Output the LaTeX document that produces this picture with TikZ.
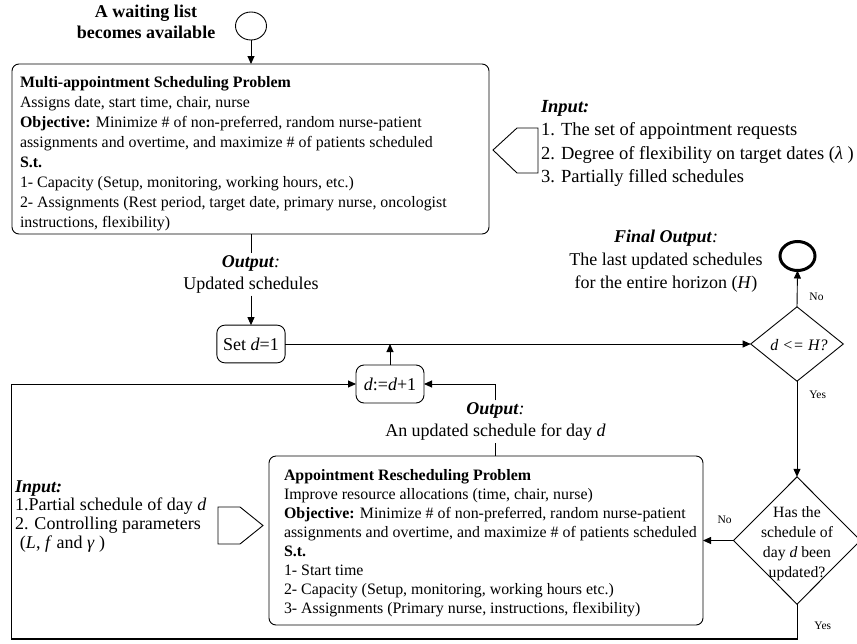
\documentclass[tikz,border=0pt]{standalone}
\usepackage{fontspec}
\setmainfont{Liberation Serif}
\usetikzlibrary{shapes.geometric,arrows.meta}
\begin{document}
\begin{tikzpicture}[x=1pt,y=-1pt, line width=0.9pt,
  arr/.style={-{Triangle[length=8pt,width=7pt]}},
  box/.style={draw, rounded corners=7pt, inner sep=0pt, outer sep=0pt},
  txt/.style={inner sep=0pt, outer sep=0pt, align=left, anchor=north west},
  lab/.style={inner sep=2pt, align=center},
  yn/.style={font=\fontsize{11.5}{13}\selectfont, inner sep=0pt},
  dia/.style={draw, diamond, inner sep=0pt, outer sep=0pt},
]
\useasboundingbox (0,0) rectangle (857,643);

% start
\node[draw, ellipse, minimum width=31pt, minimum height=28pt, inner sep=0pt, outer sep=0pt] (start) at (251,26) {};
\node[font=\fontsize{18}{21}\selectfont\bfseries, align=center, anchor=north, inner sep=0pt] (title) at (146,4.4) {A waiting list\\becomes available};

% top box
\node[box, minimum width=477pt, minimum height=170pt] (b1) at (250.5,149) {};
\node[txt, font=\fontsize{15.9}{20}\selectfont] (b1t) at (20,76) {\textbf{Multi-appointment Scheduling Problem}\\
Assigns date, start time, chair, nurse\\
\textbf{Objective:} Minimize \# of non-preferred, random nurse-patient\\
assignments and overtime, and maximize \# of patients scheduled\\
\textbf{S.t.}\\
1- Capacity (Setup, monitoring, working hours, etc.)\\
2- Assignments (Rest period, target date, primary nurse, oncologist\\
instructions, flexibility)};

% top input
\draw (493,150) -- (517,128) -- (538,128) -- (538,173) -- (517,173) -- cycle;
\node[txt, font=\fontsize{18.5}{23.5}\selectfont] (in1) at (541,100) {\textbf{\textit{Input:}}\\
1. The set of appointment requests\\
2. Degree of flexibility on target dates (\textit{λ} )\\
3. Partially filled schedules};

% final output
\node[font=\fontsize{18}{23}\selectfont, align=center, anchor=north, inner sep=0pt] (fo) at (666,229.4) {\textbf{\textit{Final Output}}\textit{:}\\The last updated schedules\\for the entire horizon (\textit{H})};
\node[draw, ellipse, line width=3pt, minimum width=35pt, minimum height=29pt, inner sep=0pt, outer sep=0pt] (end) at (797.5,256) {};

% output 1 and set
\node[lab, font=\fontsize{18}{22}\selectfont, anchor=north] (o1) at (251,253) {\textbf{\textit{Output}}\textit{:}\\Updated schedules};
\node[box, rounded corners=8pt, minimum width=68.3pt, minimum height=37.7pt, font=\fontsize{18}{21}\selectfont] (set) at (251,344) {Set \textit{d}=1};
\node[box, rounded corners=8pt, minimum width=68pt, minimum height=38pt, font=\fontsize{18}{21}\selectfont] (dd) at (390,384) {\textit{d}:=\textit{d}+1};

% diamonds
\node[dia, minimum width=92.6pt, minimum height=74.3pt] (d1) at (797,344) {};
\node[font=\fontsize{16}{19}\selectfont, inner sep=0pt] (d1t) at (799,345) {\textit{d <= H?}};
\node[dia, minimum width=127pt, minimum height=127.3pt] (d2) at (797,540.5) {};
\node[align=center, font=\fontsize{15.7}{20}\selectfont, inner sep=0pt] (d2t) at (797,544) {Has the\\schedule of\\day \textit{d} been\\updated?};

% output 2
\node[lab, font=\fontsize{18}{22}\selectfont, anchor=north] (o2) at (495.5,400.4) {\textbf{\textit{Output}}\textit{:}\\An updated schedule for day \textit{d}};

% bottom box
\node[box, minimum width=434pt, minimum height=169pt] (b2) at (486,540.5) {};
\node[txt, font=\fontsize{15.9}{19}\selectfont] (b2t) at (284,469) {\textbf{Appointment Rescheduling Problem}\\
Improve resource allocations (time, chair, nurse)\\
\textbf{Objective:} Minimize \# of non-preferred, random nurse-patient\\
assignments and overtime, and maximize \# of patients scheduled\\
\textbf{S.t.}\\
1- Start time\\
2- Capacity (Setup, monitoring, working hours etc.)\\
3- Assignments (Primary nurse, instructions, flexibility)};

% left input
\draw (218,507) -- (240,507) -- (263,525.5) -- (240,544) -- (218,544) -- cycle;
\node[txt, font=\fontsize{18}{18.7}\selectfont] (in2) at (15,480.4) {\textbf{\textit{Input:}}\\
1.Partial schedule of day \textit{d}\\
2. Controlling parameters\\
\hspace*{5pt}(\textit{L}, \textit{f} and \textit{γ} )};

% labels
\node[yn] (no1) at (816.5,296.7) {No};
\node[yn] (yes1) at (817.7,395) {Yes};
\node[yn] (no2) at (724.7,520) {No};
\node[yn] (yes2) at (822.8,626) {Yes};

% connectors
\coordinate (lb) at (11,639);
\draw[arr] (start.south) -- (start.south |- b1.north);
\draw (b1.south -| o1.north) -- (o1.north);
\draw[arr] (o1.south) -- (set.north);
\draw[arr] (set.east) -- (d1.west);
\draw[arr] (dd.north) -- (dd.north |- set.east);
\draw[arr] (d1.north) -- (end.south);
\draw[arr] (d1.south) -- (d2.north);
\draw[arr] (d2.west) -- (b2.east);
\draw[arr] (d2.south) |- (lb) |- (dd.west);
\draw[line width=1.8pt] (d2.south |- lb) -- (lb);
\draw (b2.north -| o2.south) -- (o2.south);
\draw[arr] (o2.north) |- (dd.east);
\end{tikzpicture}
\end{document}
